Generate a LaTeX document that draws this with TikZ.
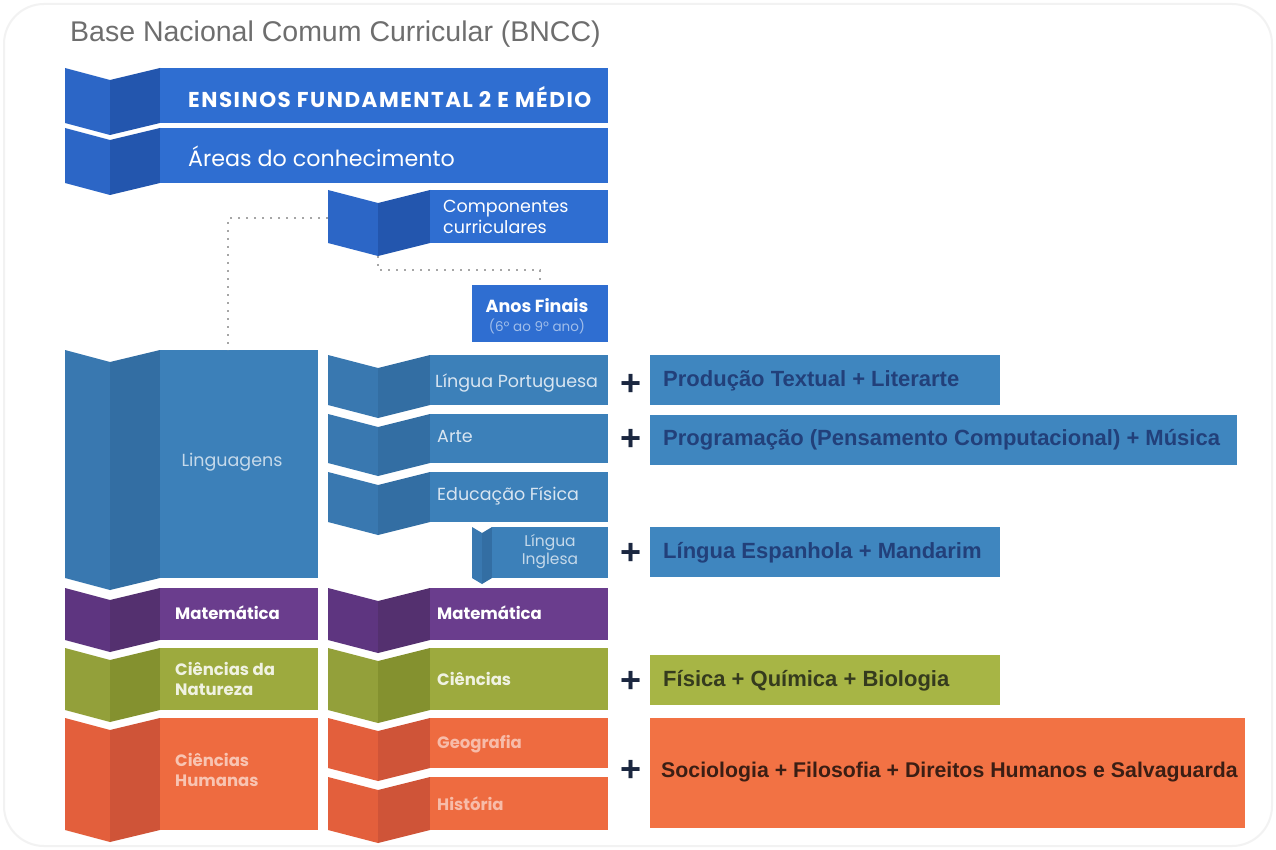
\documentclass[tikz,border=0pt]{standalone}
\usepackage{fontspec}
\setmainfont{Liberation Sans}
\newfontfamily\bandfont{Poppins}

% area colours: main face, fold (middle) face, left face
\definecolor{blu}{HTML}{2F6ED1}\definecolor{bluM}{HTML}{2356AE}\definecolor{bluL}{HTML}{2C66C6}
\definecolor{lng}{HTML}{3C80B9}\definecolor{lngM}{HTML}{336EA3}\definecolor{lngL}{HTML}{3978B0}
\definecolor{mat}{HTML}{6A3D8D}\definecolor{matM}{HTML}{54306F}\definecolor{matL}{HTML}{5E3580}
\definecolor{cie}{HTML}{9DAA3E}\definecolor{cieM}{HTML}{84912F}\definecolor{cieL}{HTML}{93A03A}
\definecolor{hum}{HTML}{EE6B40}\definecolor{humM}{HTML}{CF5438}\definecolor{humL}{HTML}{E35F3C}
\definecolor{xblu}{HTML}{3F86BF}\definecolor{xcie}{HTML}{A7B545}\definecolor{xhum}{HTML}{F27244}
\definecolor{titlegray}{HTML}{6E6E6E}\definecolor{plusnavy}{HTML}{1B2740}
\definecolor{txblu}{HTML}{22407A}\definecolor{txcie}{HTML}{353B1E}\definecolor{txhum}{HTML}{3B1E14}

% folded band: x-left, x-fold, x-main, x-right, top, bottom, dip, colour
\newcommand{\fband}[8]{%
  \fill[#8L] (#1,#5) -- (#2,#5+#7) -- (#2,#6+#7) -- (#1,#6) -- cycle;
  \fill[#8M] (#2,#5+#7) -- (#3,#5) -- (#3,#6) -- (#2,#6+#7) -- cycle;
  \fill[#8] (#3,#5) rectangle (#4,#6);}

\tikzset{
  lbl/.style={anchor=west, inner sep=0pt, align=left, font=\bandfont\fontsize{17.5}{20}\selectfont},
  blbl/.style={lbl, font=\bandfont\bfseries\fontsize{16.5}{20}\selectfont},
  plus/.style={inner sep=0pt, text=plusnavy, font=\bfseries\fontsize{36}{36}\selectfont},
  extratext/.style={anchor=west, inner sep=0pt, font=\bfseries\fontsize{22}{22}\selectfont},
  guide/.style={draw=gray!70, line width=1.4pt, dash pattern=on 2pt off 6pt}
}

\begin{document}
\begin{tikzpicture}[x=1pt,y=-1pt]
\useasboundingbox (0,0) rectangle (1276,850);
\fill[white] (0,0) rectangle (1276,850);
\draw[gray!10, line width=2pt, rounded corners=40pt] (4,4) rectangle (1272,846);

% title
\node[anchor=west, inner sep=0pt, text=titlegray, font=\fontsize{28.5}{28.5}\selectfont] (title) at (70,34) {Base Nacional Comum Curricular (BNCC)};

% top bands
\fband{65}{110}{160}{608}{68}{123}{12}{blu}
\fband{65}{110}{160}{608}{128}{183}{12}{blu}
\node[lbl, text=white, font=\bandfont\bfseries\fontsize{21.5}{21.5}\selectfont\addfontfeature{LetterSpace=7}] (ensinos) at (188,97) {ENSINOS FUNDAMENTAL 2 E MÉDIO};
\node[lbl, text=white, font=\bandfont\fontsize{22.2}{22.2}\selectfont] (areas) at (188,156) {Áreas do conhecimento};

% curricular components and final years
\fband{328}{378}{430}{608}{190}{243}{13}{blu}
\node[lbl, text=white, font=\bandfont\fontsize{17.5}{21}\selectfont] (comp) at (443,217) {Componentes\\curriculares};
\coordinate (compL) at (328,218);
\coordinate (compV) at (378,256);
\fill[blu] (472,285) rectangle (608,342);
\node[inner sep=0pt, text=white, font=\bandfont\bfseries\fontsize{17.5}{17.5}\selectfont] (anos) at (537,306) {Anos Finais};
\node[inner sep=0pt, text=white!55!blu, font=\bandfont\fontsize{13.5}{13.5}\selectfont] (anossub) at (537,326) {(6º ao 9º ano)};
\coordinate (anosN) at (540,285);

% knowledge areas (left column)
\fband{65}{110}{160}{318}{350}{578}{12}{lng}
\coordinate (lingN) at (228,350);
\node[lbl, anchor=center, text=white!70!lng] (ling) at (232,462) {Linguagens};
\fband{65}{110}{160}{318}{588}{640}{12}{mat}
\node[blbl, text=white] (matA) at (175,613) {Matemática};
\fband{65}{110}{160}{318}{648}{710}{12}{cie}
\node[blbl, text=white!85!cie] (natA) at (175,679) {Ciências da\\Natureza};
\fband{65}{110}{160}{318}{718}{830}{12}{hum}
\node[blbl, text=white!60!hum] (humA) at (175,770) {Ciências\\Humanas};

% components (middle column)
\fband{328}{378}{430}{608}{355}{405}{13}{lng}
\node[lbl, text=white!80!lng] (lp) at (435,383) {Língua Portuguesa};
\fband{328}{378}{430}{608}{414}{463}{13}{lng}
\node[lbl, text=white!80!lng] (arte) at (437,437) {Arte};
\fband{328}{378}{430}{608}{472}{522}{13}{lng}
\node[lbl, text=white!80!lng] (ef) at (437,496) {Educação Física};
\fband{472}{482}{492}{608}{527}{578}{6}{lng}
\node[lbl, anchor=center, align=center, text=white!70!lng, font=\bandfont\fontsize{15.5}{18}\selectfont] (li) at (550,552) {Língua\\Inglesa};
\fband{328}{378}{430}{608}{588}{640}{13}{mat}
\node[blbl, text=white] (matB) at (437,613) {Matemática};
\fband{328}{378}{430}{608}{648}{710}{13}{cie}
\node[blbl, text=white!85!cie] (cien) at (437,679) {Ciências};
\fband{328}{378}{430}{608}{718}{768}{13}{hum}
\node[blbl, text=white!55!hum] (geo) at (437,744) {Geografia};
\fband{328}{378}{430}{608}{777}{830}{13}{hum}
\node[blbl, text=white!55!hum] (hist) at (437,804) {História};

% dotted guides
\draw[guide] (compL) -| (lingN);
\draw[guide] (compV) -- ++(0,14) -| (anosN);

% plus signs
\node[plus] (p1) at (631,385) {+};
\node[plus] (p2) at (631,440) {+};
\node[plus] (p3) at (631,554) {+};
\node[plus] (p4) at (631,682) {+};
\node[plus] (p5) at (631,771) {+};

% additions of the school
\fill[xblu] (650,355) rectangle (1000,405);
\node[extratext, text=txblu] (x1) at (663,381) {Produção Textual + Literarte};
\fill[xblu] (650,415) rectangle (1237,465);
\node[extratext, text=txblu] (x2) at (663,440) {Programação (Pensamento Computacional) + Música};
\fill[xblu] (650,527) rectangle (1000,577);
\node[extratext, text=txblu] (x3) at (663,553) {Língua Espanhola + Mandarim};
\fill[xcie] (650,655) rectangle (1000,705);
\node[extratext, text=txcie] (x4) at (663,681) {Física + Química + Biologia};
\fill[xhum] (650,718) rectangle (1245,828);
\node[extratext, text=txhum, font=\bfseries\fontsize{21.3}{21.3}\selectfont] (x5) at (661,772) {Sociologia + Filosofia + Direitos Humanos e Salvaguarda};
\end{tikzpicture}
\end{document}
